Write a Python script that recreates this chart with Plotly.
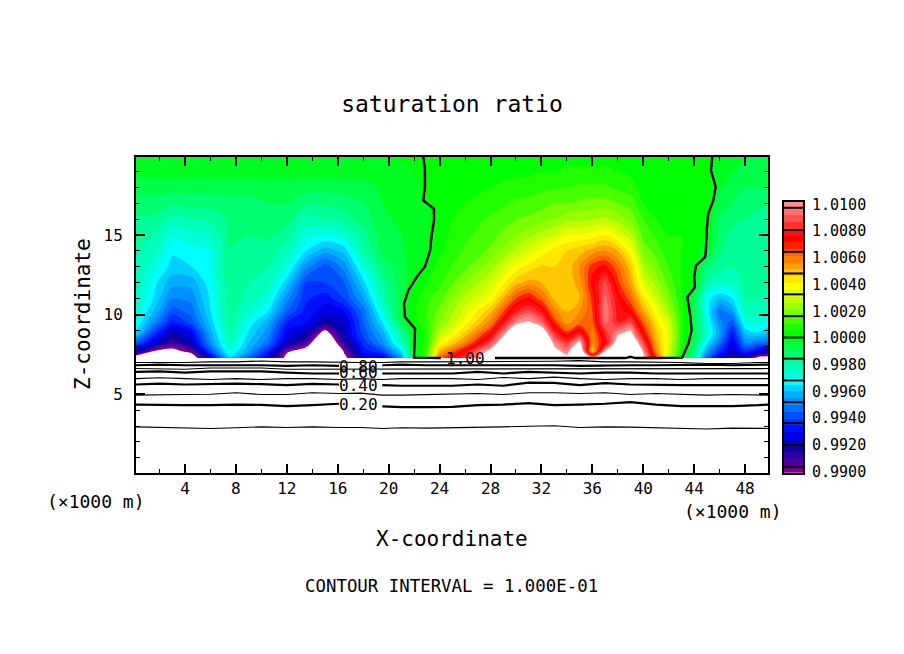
import numpy as np
import plotly.graph_objects as go

W, H = 904, 654
PAGE = 8  # the page body pushes the figure in by this much
MONO = "DejaVu Sans Mono"

# filled field, one profile per x column, bottom to top
fill_y = [7.27, 7.7, 8.2, 8.8, 9.5, 10.2, 11, 12, 13, 14, 15, 16, 17, 18, 19, 19.95]
fill_x = [0, 1.5, 3, 4.5, 6, 7.5, 9, 10.5, 12, 13.5, 15, 16.5, 18, 19.5, 21, 22, 23, 24,
          26, 28, 30, 31, 32, 33, 34, 35, 36, 37, 38, 39, 40, 41, 42, 43, 44, 45, 46, 47, 48, 49, 49.9]
sat_columns = [
    [.989, .9925, .9945, .9965, .9972, .9975, .9977, .9979, .998, .9981, .9982, .9984, .9988, .9992, .9997, 1.0],
    [.9885, .99, .9925, .9938, .9952, .996, .9965, .9967, .9972, .9977, .998, .9984, .9988, .9992, .9997, 1.0],
    [.9885, .9895, .991, .992, .9933, .9942, .995, .9957, .9963, .9966, .9971, .9978, .9986, .9992, .9997, 1.0],
    [.9888, .9905, .9922, .9928, .9942, .9947, .9952, .9957, .9965, .9968, .9973, .998, .9987, .9992, .9997, 1.0],
    [.9925, .9942, .9952, .9957, .9962, .9965, .9966, .9968, .997, .997, .9975, .9981, .9987, .9992, .9997, 1.0],
    [.9962, .9972, .9977, .998, .9982, .9983, .9984, .9984, .9985, .9985, .9986, .9986, .9988, .9992, .9997, 1.0],
    [.9945, .9955, .996, .9964, .9968, .9974, .9978, .998, .9982, .9984, .9985, .9986, .9988, .9992, .9997, 1.0],
    [.9925, .9935, .9947, .9952, .9957, .9965, .9972, .9977, .998, .9983, .9986, .9987, .999, .9993, .9997, 1.0],
    [.9895, .9902, .9922, .9928, .9935, .9945, .9952, .9962, .9972, .9977, .9982, .9987, .999, .9993, .9997, 1.0],
    [.988, .9893, .9907, .992, .993, .9933, .9936, .994, .9952, .9965, .9972, .9978, .9986, .9992, .9997, 1.0],
    [.98, .985, .988, .9892, .9918, .9927, .9932, .994, .9942, .9957, .997, .998, .9986, .9992, .9997, 1.0],
    [.9895, .9902, .9912, .9922, .9923, .993, .994, .9945, .9952, .9962, .9973, .9983, .9987, .9993, .9997, 1.0],
    [.9925, .9932, .9937, .9942, .9945, .9947, .9955, .9963, .9972, .998, .9983, .9987, .999, .9993, .9997, 1.0],
    [.9925, .994, .9952, .9957, .9965, .9972, .9978, .9982, .9987, .9991, .9993, .9994, .9995, .9996, .9998, 1.0],
    [.9955, .9965, .9975, .9982, .9992, .9995, .9994, .9993, .9993, .9994, .9995, .9996, .9996, .9997, .9998, 1.0001],
    [.9995, .9997, .9998, .9998, 1.0002, 1.0004, 1.0003, .9999, .9998, .9998, .9998, .9998, .9998, .9999, 1.0, 1.0001],
    [1.0015, 1.0012, 1.0008, 1.0008, 1.001, 1.001, 1.0009, 1.0005, 1.0002, 1.0, 1.0, .9999, .9999, 1.0001, 1.0002, 1.0002],
    [1.0062, 1.005, 1.0037, 1.0027, 1.002, 1.0017, 1.0013, 1.0009, 1.0007, 1.0004, 1.0003, 1.0003, 1.0003, 1.0003, 1.0003, 1.0003],
    [1.0085, 1.0075, 1.0058, 1.0047, 1.0037, 1.0032, 1.0027, 1.002, 1.0014, 1.0011, 1.0009, 1.0007, 1.0005, 1.0004, 1.0003, 1.0002],
    [1.0115, 1.0105, 1.0087, 1.0072, 1.0057, 1.0049, 1.0037, 1.003, 1.0023, 1.0016, 1.0013, 1.0011, 1.0007, 1.0005, 1.0003, 1.0002],
    [1.015, 1.015, 1.014, 1.012, 1.0097, 1.008, 1.0065, 1.0048, 1.0037, 1.0027, 1.002, 1.0015, 1.0011, 1.0007, 1.0004, 1.0002],
    [1.015, 1.015, 1.015, 1.013, 1.0102, 1.0087, 1.0072, 1.0052, 1.0042, 1.0032, 1.0023, 1.0016, 1.0012, 1.0007, 1.0004, 1.0002],
    [1.014, 1.014, 1.013, 1.0115, 1.0092, 1.0078, 1.0062, 1.005, 1.0046, 1.0037, 1.0027, 1.0018, 1.0013, 1.0009, 1.0005, 1.0002],
    [1.012, 1.0105, 1.0097, 1.0083, 1.0068, 1.0057, 1.0049, 1.0047, 1.0045, 1.0042, 1.003, 1.002, 1.0015, 1.0009, 1.0005, 1.0002],
    [1.0105, 1.0095, 1.0085, 1.0068, 1.0053, 1.005, 1.0049, 1.0047, 1.0046, 1.0045, 1.0035, 1.0023, 1.0015, 1.001, 1.0006, 1.0003],
    [1.014, 1.012, 1.0105, 1.008, 1.006, 1.0055, 1.005, 1.0052, 1.0055, 1.0048, 1.0036, 1.0024, 1.0016, 1.0011, 1.0006, 1.0003],
    [1.0105, 1.0045, 1.0055, 1.0057, 1.0062, 1.0065, 1.0067, 1.0072, 1.0068, 1.0052, 1.0037, 1.0025, 1.0017, 1.0011, 1.0006, 1.0003],
    [1.012, 1.0102, 1.0075, 1.008, 1.0092, 1.0095, 1.0092, 1.0087, 1.0072, 1.0055, 1.004, 1.0026, 1.0017, 1.0011, 1.0006, 1.0003],
    [1.013, 1.013, 1.011, 1.0098, 1.008, 1.0078, 1.0075, 1.0067, 1.0061, 1.005, 1.0034, 1.0023, 1.0015, 1.0009, 1.0005, 1.0002],
    [1.014, 1.014, 1.012, 1.0105, 1.0087, 1.0072, 1.0062, 1.0052, 1.0047, 1.0037, 1.0027, 1.0018, 1.0013, 1.0007, 1.0004, 1.0002],
    [1.0105, 1.0098, 1.0087, 1.0073, 1.0063, 1.0052, 1.0043, 1.0032, 1.0025, 1.0018, 1.0013, 1.001, 1.0005, 1.0003, 1.0002, 1.0002],
    [1.0067, 1.0057, 1.0052, 1.0048, 1.0042, 1.0037, 1.003, 1.0023, 1.0017, 1.0013, 1.0009, 1.0005, 1.0003, 1.0002, 1.0002, 1.0002],
    [1.0027, 1.0031, 1.0032, 1.0033, 1.003, 1.0024, 1.0018, 1.0013, 1.001, 1.0007, 1.0005, 1.0004, 1.0003, 1.0002, 1.0002, 1.0002],
    [1.0, 1.0005, 1.0007, 1.0008, 1.0008, 1.0007, 1.0006, 1.0005, 1.0005, 1.0005, 1.0005, 1.0004, 1.0004, 1.0003, 1.0003, 1.0003],
    [.998, .9985, .999, .9993, .9992, .9992, .9992, .9998, 1.0, 1.0002, 1.0002, 1.0002, 1.0003, 1.0003, 1.0003, 1.0003],
    [.9945, .9955, .9965, .9973, .9971, .9968, .9967, .998, .9986, .9996, 1.0, 1.0, 1.0001, 1.0002, 1.0001, 1.0001],
    [.9925, .9937, .9947, .9955, .9952, .9947, .996, .9975, .9983, .9986, .9988, .999, .9992, .9996, .9997, .9998],
    [.9915, .9922, .9926, .9932, .9942, .9955, .9965, .9975, .998, .9982, .9983, .9987, .999, .9992, .9995, .9997],
    [.9915, .9937, .995, .996, .9971, .9978, .998, .9982, .9982, .9982, .9983, .9985, .9988, .999, .9993, .9996],
    [.9895, .9927, .9947, .9964, .9973, .9977, .998, .9981, .9981, .9981, .9982, .9984, .9986, .999, .9993, .9995],
    [.9892, .992, .9945, .9958, .9968, .9974, .9978, .998, .998, .998, .998, .998, .9985, .999, .9992, .9995],
]

band_colors = [
    "#800090", "#5000a0", "#3000a0", "#1000a0", "#0000c0", "#0000e8", "#0010ff", "#0030ff",
    "#0050ff", "#0070ff", "#0090ff", "#00b0ff", "#00d0ff", "#00ffff", "#00ffd8", "#00ffb8",
    "#00ff98", "#00ff70", "#00ff48", "#00ff20", "#00ff00", "#20ff00", "#48ff00", "#78ff00",
    "#98ff00", "#c0ff00", "#e0ff00", "#ffff00", "#ffe800", "#ffc800", "#ffa000", "#ff8000",
    "#ff6000", "#ff2000", "#ff0000", "#ff1010", "#ff3030", "#ff5050", "#ff7070", "#ff9090",
]

# contour lines below the fill
line_x = [0.15, 2, 4, 6, 8, 10, 12, 14, 16.1, 17.8, 19.5, 21, 23, 25, 27, 29, 31, 33, 35, 37, 39, 41, 43, 45, 47, 49, 49.8]
level_01 = [2.95, 2.93, 2.89, 2.85, 2.89, 2.95, 2.91, 2.95, 2.91, 2.91, 2.85, 2.89, 2.87, 2.89, 2.89, 2.95, 2.99, 3.02, 2.91, 2.95, 2.93, 2.89, 2.85, 2.81, 2.87, 2.85, 2.85]
level_02 = [4.35, 4.31, 4.31, 4.31, 4.35, 4.33, 4.25, 4.31, 4.40, None, 4.23, 4.19, 4.19, 4.21, 4.31, 4.35, 4.44, 4.31, 4.35, 4.40, 4.50, 4.35, 4.25, 4.23, 4.25, 4.31, 4.35]
level_03 = [4.94, 4.98, 4.98, 5.00, 5.09, 4.98, 4.98, 5.09, 5.04, 5.07, 4.94, 4.94, 4.98, 4.98, 5.04, 4.98, 5.09, 5.09, 5.04, 5.09, 4.98, 5.04, 4.98, 4.94, 4.98, 4.98, 4.94]
level_04 = [5.61, 5.67, 5.61, 5.63, 5.67, 5.63, 5.57, 5.65, 5.61, None, 5.57, 5.53, 5.53, 5.53, 5.61, 5.53, 5.73, 5.71, 5.57, 5.69, 5.61, 5.57, 5.57, 5.57, 5.57, 5.57, 5.57]
level_05 = [5.98, 6.03, 5.98, 5.92, 5.98, 5.92, 5.98, 5.98, 5.92, 5.98, 5.92, 5.98, 5.98, 5.98, 5.92, 6.05, 5.98, 6.07, 5.98, 5.92, 5.98, 5.98, 5.92, 5.98, 5.98, 5.98, 5.98]
level_06 = [6.40, 6.44, 6.36, 6.44, 6.44, 6.44, 6.36, 6.30, 6.30, None, 6.30, 6.30, 6.26, 6.30, 6.40, 6.30, 6.40, 6.36, 6.30, 6.36, 6.36, 6.30, 6.30, 6.30, 6.30, 6.30, 6.30]
level_07 = [6.61, 6.61, 6.57, 6.65, 6.65, 6.65, 6.57, 6.57, 6.57, 6.61, 6.57, 6.57, 6.61, 6.61, 6.57, 6.57, 6.61, 6.61, 6.61, 6.57, 6.61, 6.61, 6.57, 6.57, 6.57, 6.61, 6.61]
level_08 = [6.82, 6.86, 6.82, 6.82, 6.86, 6.82, 6.78, 6.82, 6.78, None, 6.82, 6.86, 6.82, 6.82, 6.86, 6.82, 6.82, 6.82, 6.78, 6.82, 6.82, 6.82, 6.86, 6.86, 6.82, 6.86, 6.86]
level_09 = [6.99, 6.97, 6.99, 7.03, 7.03, 7.09, 7.03, 7.03, 6.99, 6.99, 6.99, 7.03, 7.03, 7.03, 7.03, 7.07, 7.07, 7.07, 7.11, 7.03, 7.03, 7.03, 6.99, 6.93, 6.93, 6.99, 6.99]

# the 1.00 contour, up the left side, along the base, down the right side
one_x = [22.72, 22.85, 22.85, 22.72, 23.56, 23.56, 23.38, 23.25, 22.85, 22.2, 21.54, 21.2, 21.28, 22.07, 21.99,
         24.1, None, 28.35, 31, 34, 36, 38.6, 39, 39.4, 41, 43.06,
         43.54, 43.8, 43.67, 43.46, 44.06, 44.0, 44.14, 44.85, 44.92, 44.98, 45.1, 45.5, 45.69, 45.32, 45.42]
one_y = [19.93, 19.05, 18.04, 17.17, 16.65, 15.91, 15.03, 14.03, 13.03, 12.36, 11.52, 10.69, 9.85, 9.12, 7.3,
         7.27, None, 7.27, 7.27, 7.27, 7.25, 7.27, 7.35, 7.27, 7.27, 7.3,
         8.18, 9.0, 10.06, 11.1, 11.73, 12.36, 13.09, 13.61, 14.03, 15.29, 16.33, 17.17, 18.04, 19.05, 19.93]

x_ticks = [4, 8, 12, 16, 20, 24, 28, 32, 36, 40, 44, 48]
x_minor = list(range(2, 50, 2))
y_ticks = [5, 10, 15]
y_minor = list(range(1, 20))
bar_ticks = [0.99, 0.992, 0.994, 0.996, 0.998, 1.0, 1.002, 1.004, 1.006, 1.008, 1.01]
bar_lines = [1.00975, 1.00809, 1.00646, 1.00483, 1.00327, 1.00164, 1.00004, .99846, .99683, .99520, .99364, .99201, .99034]

line_labels = ["0.20", "0.40", "0.60", "0.80", "1.00"]
line_label_x = [17.6, 17.6, 17.6, 17.6, 26.07]
line_label_y = [4.38, 5.57, 6.38, 6.76, 7.27]

FW, FH = W - PAGE, H - PAGE


def dom_x(a, b):
    return [(a - PAGE) / FW, (b - PAGE) / FW]


def dom_y(top, bottom):
    return [(H - bottom) / FH, (H - top) / FH]


def paper_note(text, px, py, size, angle=0):
    return dict(text=text, x=(px - PAGE) / FW, y=(H - py) / FH, xref="paper", yref="paper",
                xanchor="center", yanchor="middle", showarrow=False,
                textangle=angle, font=dict(family=MONO, size=size, color="black"))


z = np.array(sat_columns).T
n = len(band_colors)
# white below 0.99 and above 1.01
fill_scale = [[i / (n + 1), c] for i, c in enumerate(["#ffffff"] + band_colors + ["#ffffff"])]

fig = go.Figure()

fig.add_trace(go.Contour(
    x=fill_x, y=fill_y, z=z,
    colorscale=fill_scale,
    autocontour=False,
    contours=dict(start=0.99, end=1.01, size=0.0005, coloring="fill", showlines=False),
    line=dict(width=0),
    showscale=False,
    hoverinfo="skip",
))

thin_levels = [level_01, level_03, level_05, level_07, level_09]
thick_levels = [level_02, level_04, level_06, level_08]
for ys in thin_levels:
    fig.add_trace(go.Scatter(x=line_x, y=ys, mode="lines", line=dict(color="black", width=1.1), showlegend=False))
for ys in thick_levels:
    fig.add_trace(go.Scatter(x=line_x, y=ys, mode="lines", line=dict(color="black", width=2.2), showlegend=False))
fig.add_trace(go.Scatter(x=one_x, y=one_y, mode="lines", line=dict(color="black", width=2.4), showlegend=False))

# colour key drawn as its own little axes
edges = np.linspace(0.9899, 1.0102, n + 1)
fig.add_trace(go.Heatmap(
    x=[0, 1], y=edges, z=[[i] for i in range(n)],
    colorscale=[[i / (n - 1), c] for i, c in enumerate(band_colors)],
    zmin=0, zmax=n - 1, showscale=False, xaxis="x2", yaxis="y2", hoverinfo="skip",
))
key_x, key_y = [], []
for v in bar_lines:
    key_x += [0, 1, None]
    key_y += [v, v, None]
fig.add_trace(go.Scatter(x=key_x, y=key_y, mode="lines", line=dict(color="black", width=2),
                         xaxis="x2", yaxis="y2", showlegend=False))

annotations = []
for text, ax, ay in zip(line_labels, line_label_x, line_label_y):
    annotations.append(dict(text=text, x=ax, y=ay, xref="x", yref="y", showarrow=False,
                            font=dict(family=MONO, size=16, color="black")))
annotations += [
    paper_note("(×1000 m)", 96, 501, 18),
    paper_note("(×1000 m)", 733, 511, 18),
    paper_note("X-coordinate", 452, 539, 21),
    paper_note("Z-coordinate", 83, 314, 21, -90),
    paper_note("CONTOUR INTERVAL = 1.000E-01", 451, 586, 17.4),
]

axis_common = dict(showline=True, linecolor="black", linewidth=2, mirror="allticks", showgrid=False, zeroline=False,
                   automargin=False, ticks="inside", ticklen=9, tickwidth=2, tickcolor="black",
                   tickfont=dict(family=MONO, size=16, color="black"))

fig.update_layout(
    width=FW, height=FH,
    margin=dict(l=0, r=0, t=0, b=0),
    paper_bgcolor="white", plot_bgcolor="white",
    showlegend=False,
    title=dict(text="saturation ratio", x=(452 - PAGE) / FW, xanchor="center", y=(H - 104) / FH, yanchor="middle",
               font=dict(family=MONO, size=23, color="black")),
    xaxis=dict(domain=dom_x(136, 768), range=[0.15, 49.8], tickmode="array", tickvals=x_ticks, ticklabelstandoff=0,
               minor=dict(tickmode="array", tickvals=x_minor, ticks="inside", ticklen=4, tickwidth=1, tickcolor="black"),
               **axis_common),
    yaxis=dict(domain=dom_y(157, 473), range=[0.05, 19.9], tickmode="array", tickvals=y_ticks, ticklabelstandoff=8,
               minor=dict(tickmode="array", tickvals=y_minor, ticks="inside", ticklen=4, tickwidth=1, tickcolor="black"),
               **axis_common),
    xaxis2=dict(domain=dom_x(784, 803), range=[0, 1], anchor="y2", showticklabels=False, ticks="", automargin=False,
                showline=True, linecolor="black", linewidth=2, mirror=True, showgrid=False, zeroline=False),
    yaxis2=dict(domain=dom_y(201.7, 473), range=[0.9899, 1.0102], anchor="x2", side="right", automargin=False,
                tickmode="array", tickvals=bar_ticks, tickformat=".4f", ticks="outside", ticklen=4, tickcolor="white",
                tickfont=dict(family=MONO, size=15, color="black"),
                showline=True, linecolor="black", linewidth=2, mirror=True, showgrid=False, zeroline=False),
    annotations=annotations,
)

fig.write_html("out.html")
